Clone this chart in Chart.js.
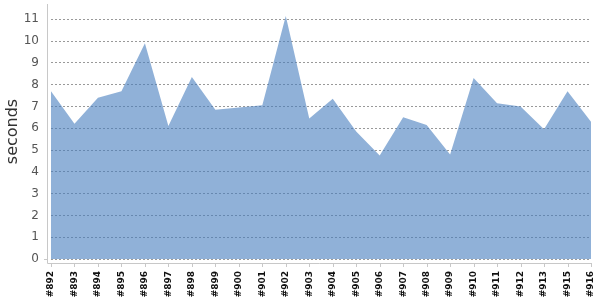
<!DOCTYPE html>
<html>
<head>
<meta charset="utf-8">
<script src="https://cdn.jsdelivr.net/npm/chart.js@4"></script>
<style>
  html, body { margin: 0; padding: 0; background: #fff; }
  #wrap { width: 600px; height: 300px; position: relative; }
</style>
</head>
<body>
<div id="wrap"><canvas id="c"></canvas></div>
<script>
const categories = ["#892","#893","#894","#895","#896","#897","#898","#899","#900","#901","#902","#903","#904","#905","#906","#907","#908","#909","#910","#911","#912","#913","#915","#916"];
const seconds = [7.7, 6.2, 7.4, 7.7, 9.9, 6.1, 8.35, 6.85, 6.95, 7.05, 11.15, 6.45, 7.35, 5.85, 4.75, 6.5, 6.15, 4.8, 8.3, 7.15, 7.0, 5.95, 7.7, 6.3];
const yTicks = [0,1,2,3,4,5,6,7,8,9,10,11];
const yTitle = "seconds";

const axisPlugin = {
  id: 'axisLines',
  afterDraw(chart) {
    const ctx = chart.ctx, a = chart.chartArea, xs = chart.scales.x;
    ctx.save();
    ctx.strokeStyle = '#c8c8c8';
    ctx.lineWidth = 1;
    ctx.beginPath();
    ctx.moveTo(a.left - 3.5, a.top);
    ctx.lineTo(a.left - 3.5, a.bottom + 4.5);
    ctx.lineTo(a.right + 1, a.bottom + 4.5);
    ctx.stroke();
    ctx.beginPath();
    xs.ticks.forEach((t, i) => {
      const x = Math.round(xs.getPixelForTick(i)) + 0.5;
      ctx.moveTo(x, a.bottom + 4.5);
      ctx.lineTo(x, a.bottom + 8);
    });
    ctx.moveTo(a.left - 7, a.bottom + 0.5);
    ctx.lineTo(a.left - 3.5, a.bottom + 0.5);
    ctx.stroke();
    ctx.restore();
  }
};

new Chart(document.getElementById('c'), {
  type: 'line',
  data: {
    labels: categories,
    datasets: [{
      data: seconds,
      fill: 'origin',
      backgroundColor: 'rgba(70,125,190,0.6)',
      borderWidth: 0,
      borderColor: 'rgba(0,0,0,0)',
      pointRadius: 0,
      tension: 0
    }]
  },
  options: {
    responsive: true,
    maintainAspectRatio: false,
    animation: false,
    layout: { padding: { top: 4, right: 9, left: 0, bottom: 0 } },
    plugins: { legend: { display: false }, tooltip: { enabled: false } },
    scales: {
      x: {
        offset: false,
        afterFit(s) { s.height = 41; s.paddingRight = 0; s.paddingLeft = 0; },
        grid: { display: false, drawTicks: false },
        border: { display: false },
        ticks: {
          autoSkip: false,
          maxRotation: 90, minRotation: 90,
          padding: 12,
          color: '#111',
          font: { family: 'DejaVu Sans', size: 9, weight: 'bold' }
        }
      },
      y: {
        min: 0, max: 11.7,
        afterFit(s) { s.width = 51; s.paddingTop = 0; s.paddingBottom = 0; },
        afterBuildTicks(scale) { scale.ticks = yTicks.map(v => ({ value: v })); },
        grid: {
          color: '#999',
          drawTicks: false,
          lineWidth: 1
        },
        border: { display: false, dash: [2, 2] },
        ticks: {
          padding: 12,
          color: '#555',
          font: { family: 'DejaVu Sans', size: 12 }
        },
        title: {
          display: true,
          text: yTitle,
          color: '#333',
          font: { family: 'DejaVu Sans', size: 16 },
          padding: { top: 3, bottom: 2 }
        }
      }
    }
  },
  plugins: [axisPlugin]
});
</script>
</body>
</html>
